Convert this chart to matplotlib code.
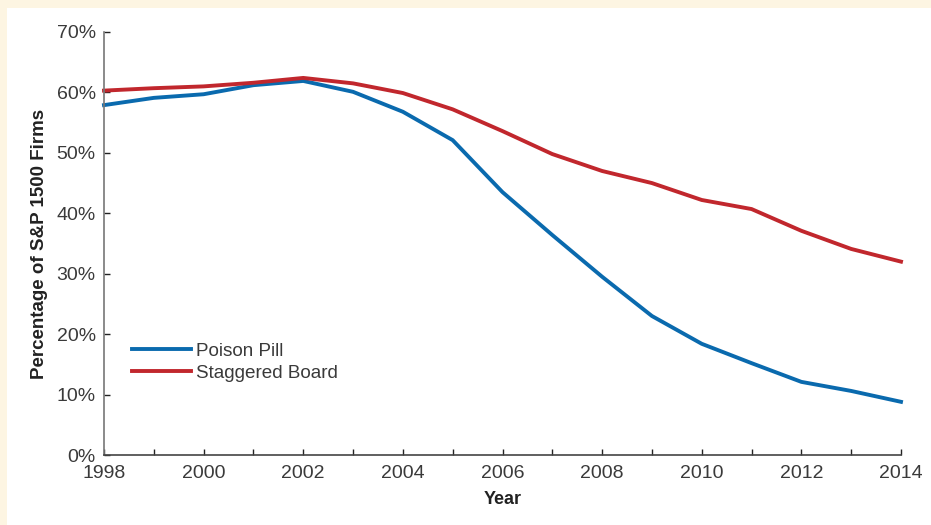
import matplotlib
matplotlib.use("Agg")
import matplotlib.pyplot as plt
from matplotlib.patches import Rectangle
from matplotlib.ticker import FuncFormatter, MultipleLocator

years = list(range(1998, 2015))
poison_pill = [57.9, 59.1, 59.7, 61.2, 61.9, 60.1, 56.8, 52.1, 43.5, 36.4, 29.5,
               23.0, 18.4, 15.2, 12.1, 10.6, 8.8]
staggered_board = [60.3, 60.7, 61.0, 61.6, 62.4, 61.5, 59.9, 57.2, 53.6, 49.8, 47.0,
                   45.0, 42.2, 40.7, 37.1, 34.1, 32.0]
series_labels = ["Poison Pill", "Staggered Board"]
x_label = "Year"
y_label = "Percentage of S&P 1500 Firms"

plt.rcParams['font.family'] = ['Liberation Sans', 'DejaVu Sans']

W, H = 931, 525
fig = plt.figure(figsize=(W / 100, H / 100), dpi=100, facecolor='#FDF5E2')
fig.patches.append(Rectangle((7 / W, 0), 1, 1 - 8 / H, transform=fig.transFigure,
                             facecolor='white', edgecolor='none', zorder=-1))

ax = fig.add_axes([104 / W, 1 - 455 / H, (901 - 104) / W, (455 - 32) / H])
ax.set_facecolor('none')

blue = '#0A6AAE'
red = '#C1272D'
ax.plot(years, poison_pill, color=blue, lw=2.8, label=series_labels[0],
        solid_joinstyle='miter', clip_on=False)
ax.plot(years, staggered_board, color=red, lw=2.8, label=series_labels[1],
        solid_joinstyle='miter', clip_on=False)

ax.set_xlim(1998, 2014)
ax.set_ylim(0, 70)
ax.xaxis.set_major_locator(MultipleLocator(2))
ax.xaxis.set_minor_locator(MultipleLocator(1))
ax.yaxis.set_major_locator(MultipleLocator(10))
ax.yaxis.set_major_formatter(FuncFormatter(lambda v, p: f"{int(v)}%"))

for s in ['top', 'right']:
    ax.spines[s].set_visible(False)
ax.spines['left'].set_color('#777777')
ax.spines['bottom'].set_color('#444444')
ax.spines['left'].set_linewidth(1.2)
ax.spines['bottom'].set_linewidth(1.2)

ax.tick_params(axis='both', which='both', direction='in', length=4.5, width=1.0,
               color='#222222', labelsize=14, labelcolor='#3a3a3a')
ax.tick_params(axis='x', which='major', pad=7)
ax.tick_params(axis='y', which='major', pad=6)
ax.tick_params(axis='y', which='minor', length=0)

ax.set_xlabel(x_label, fontsize=13, fontweight='bold', color='#222222', labelpad=7)
ax.set_ylabel(y_label, fontsize=13.5, fontweight='bold', color='#222222', labelpad=6)

leg = ax.legend(loc='center left', bbox_to_anchor=((132 - 104) / 797, (455 - 362) / 423),
                frameon=False, borderpad=0, borderaxespad=0, fontsize=13.6,
                handlelength=3.1, handletextpad=0.3, labelspacing=0.25)
for t in leg.get_texts():
    t.set_color('#3a3a3a')

fig.savefig('out.png', dpi=100, facecolor=fig.get_facecolor())
